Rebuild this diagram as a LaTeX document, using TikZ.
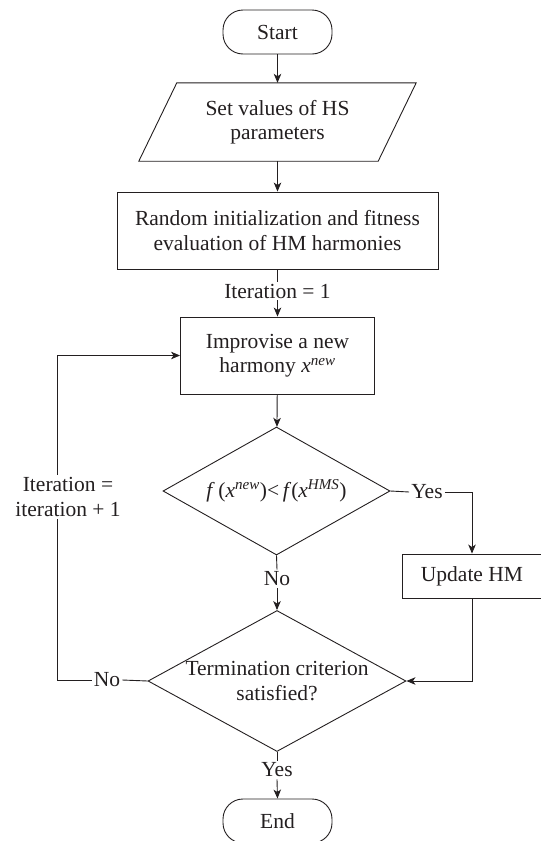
\documentclass[tikz,border=0pt]{standalone}
\usepackage{fontspec}
\setmainfont{Liberation Serif}
\usetikzlibrary{shapes.geometric,arrows.meta,calc}
\definecolor{ink}{HTML}{231F20}
\tikzset{
  every node/.style={font=\fontsize{21.5}{24.5}\selectfont, text=ink, align=center},
  conn/.style={draw=ink, line width=0.9pt},
  arr/.style={conn, -{Stealth[length=9pt,width=7.5pt,inset=2.5pt]}},
  terminal/.style={draw=ink, line width=0.9pt, rectangle, rounded corners=20pt, minimum width=109pt, minimum height=44pt, inner sep=0pt},
  procbox/.style={draw=ink, line width=0.9pt, rectangle, inner sep=0pt},
  decision/.style={draw=ink, line width=0.9pt, diamond, inner sep=0pt},
  lbl/.style={inner sep=2pt},
}
\begin{document}
\begin{tikzpicture}[x=1pt,y=-1pt]
\useasboundingbox (0,0) rectangle (541,841);

\node[terminal] (start) at (277.5,32) {Start};

\node[minimum width=239pt, minimum height=78pt, inner sep=0pt] (params) at (277.5,122) {Set values of HS\\parameters};
\draw[conn] ($(params.north west)+(19,0)$) -- ($(params.north east)+(19,0)$)
  -- ($(params.south east)+(-19,0)$) -- ($(params.south west)+(-19,0)$) -- cycle;

\node[procbox, minimum width=321pt, minimum height=77pt] (init) at (277.5,230.5)
  {Random initialization and fitness\\evaluation of HM harmonies};

\node[lbl] (iter1) at (277.5,291) {Iteration = 1};

\node[procbox, minimum width=194pt, minimum height=77pt] (improv) at (277.5,355.5)
  {Improvise a new\\harmony \textit{x}\textsuperscript{\textit{new}}};

\node[decision, minimum width=227pt, minimum height=128pt,
  label={center:\textit{f}\,(\textit{x}\textsuperscript{\textit{new}})<\,\textit{f}(\textit{x}\textsuperscript{\textit{HMS}})}]
  (dec1) at (276.5,491) {};

\node[lbl] (yes1) at (427,492) {Yes};
\node[procbox, minimum width=140pt, minimum height=44pt] (update) at (472,576) {Update HM};

\node[lbl] (no1) at (277,579) {No};

\node[decision, minimum width=258pt, minimum height=141pt,
  label={[align=center]center:Termination criterion\\satisfied?}]
  (dec2) at (277,681) {};

\node[lbl] (no2) at (107,680) {No};
\node[lbl] (yes2) at (277,770) {Yes};

\node[terminal] (end) at (277.5,821) {End};

\coordinate (loopx) at (57,0);

\draw[arr] (start) -- (params);
\draw[arr] (params) -- (init);
\draw[conn] (init) -- (iter1);
\draw[arr] (iter1) -- (improv);
\draw[arr] (improv) -- (dec1);
\draw[conn] (dec1.east) -- (yes1.west);
\draw[arr] (yes1.east) -| (update.north);
\draw[arr] (update.south) |- (dec2.east);
\draw[conn] (dec1.south) -- (no1.north);
\draw[arr] (no1.south) -- (dec2.north);
\draw[conn] (dec2.south) -- (yes2.north);
\draw[arr] (yes2.south) -- (end.north);
\draw[conn] (dec2.west) -- (no2.east);
\draw[arr] (no2.west) -| (loopx |- improv.west) -- (improv.west);

\node[fill=white, inner sep=3pt] (iterinc) at (68,497) {Iteration =\\iteration + 1};
\end{tikzpicture}
\end{document}
